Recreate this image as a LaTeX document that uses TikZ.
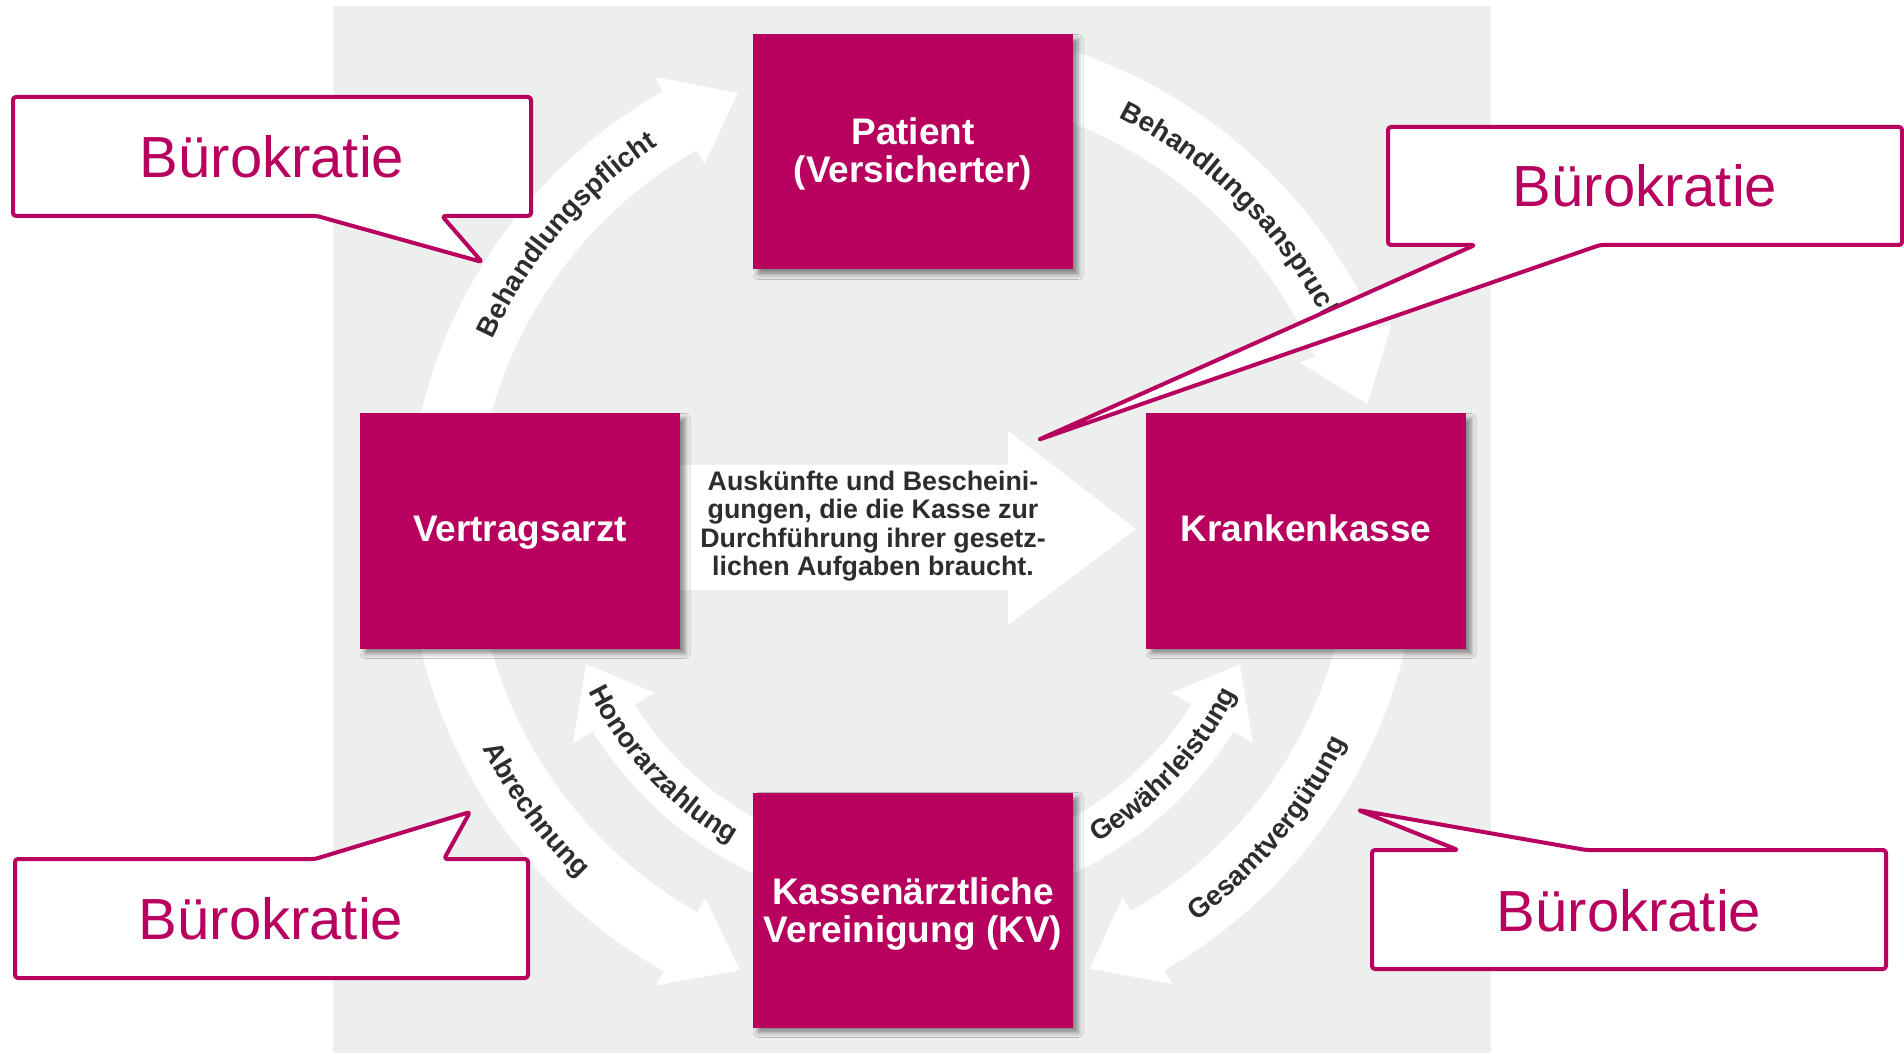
\documentclass[tikz,border=0pt]{standalone}
\usepackage{fontspec}
\setmainfont{Liberation Sans}
\newfontfamily\lblfont{Liberation Sans Bold}
\usetikzlibrary{calc,decorations.text,shadows.blur}
\definecolor{brand}{RGB}{184,0,95}
\definecolor{bggray}{RGB}{237,238,238}
\definecolor{lblgray}{RGB}{45,45,45}
\newcommand{\arcfont}{\lblfont\fontsize{13.8pt}{13.8pt}\selectfont}
% #1 radius, #2 half band width, #3 half head width, #4 start angle, #5 head base angle, #6 tip angle
\newcommand{\ringarrow}[6]{%
  \fill[arrowfill] plot[domain=#4:#5, samples=40] ({913+(#1-#2)*cos(\x)},{525+(#1-#2)*sin(\x)})
    -- ({913+(#1-#3)*cos(#5)},{525+(#1-#3)*sin(#5)})
    -- ({913+#1*cos(#6)},{525+#1*sin(#6)})
    -- ({913+(#1+#3)*cos(#5)},{525+(#1+#3)*sin(#5)})
    -- plot[domain=#5:#4, samples=40] ({913+(#1+#2)*cos(\x)},{525+(#1+#2)*sin(\x)})
    -- cycle;}
\begin{document}
\begin{tikzpicture}[x=0.5pt,y=0.5pt,
  box/.style={fill=brand, minimum width=160pt, minimum height=117.5pt, inner sep=0pt,
    blur shadow={shadow xshift=2.5pt, shadow yshift=-2.5pt, shadow blur radius=2.5pt, shadow opacity=45}},
  boxlabel/.style={text=white, font=\bfseries\fontsize{18.5pt}{19pt}\selectfont, align=center, inner sep=0pt},
  callout/.style={draw=brand, line width=2pt, fill=white, rounded corners=1.5pt, line join=round},
  calltext/.style={text=brand, font=\fontsize{29pt}{34pt}\selectfont, inner sep=0pt},
  midtext/.style={text=lblgray, font=\lblfont\fontsize{13.4pt}{14.2pt}\selectfont, align=center, inner sep=0pt},
  arrowfill/.style={fill=white}
]
\useasboundingbox (0,0) rectangle (1904,1056);
\fill[white] (0,0) rectangle (1904,1056);
\fill[bggray] (333,3) rectangle (1491,1050);
\coordinate (C) at (913,525);

% outer ring arrows
\ringarrow{472}{34}{50}{172}{119.6}{111.8}
\ringarrow{472}{34}{50}{75}{23.5}{15.6}
\ringarrow{472}{34}{50}{188}{240.5}{248.5}
\ringarrow{472}{34}{50}{352}{299.8}{292}
% inner arrows
\ringarrow{353}{25}{48}{250}{212}{202.2}
\ringarrow{353}{25}{48}{290}{328}{337.8}

% arc labels
\path[decorate, decoration={text along path, text align=center, text color=lblgray,
  text={|\arcfont|Behandlungspflicht}}]
  ($(C)+(175:231pt)$) arc[start angle=175, end angle=104, radius=231pt];
\path[decorate, decoration={text along path, text align=center, text color=lblgray,
  text={|\arcfont|Behandlungsanspruch}}]
  ($(C)+(80:231pt)$) arc[start angle=80, end angle=10, radius=231pt];
\path[decorate, decoration={text along path, text align=center, text color=lblgray,
  text={|\arcfont|Abrechnung}}]
  ($(C)+(183:241pt)$) arc[start angle=183, end angle=250, radius=241pt];
\path[decorate, decoration={text along path, text align=center, text color=lblgray,
  text={|\arcfont|Gesamtvergütung}}]
  ($(C)+(285:241pt)$) arc[start angle=285, end angle=355, radius=241pt];
\path[decorate, decoration={text along path, text align=center, text color=lblgray,
  text={|\arcfont|Honorarzahlung}}]
  ($(C)+(195:181pt)$) arc[start angle=195, end angle=251, radius=181pt];
\path[decorate, decoration={text along path, text align=center, text color=lblgray,
  text={|\arcfont|Gewährleistung}}]
  ($(C)+(289:181pt)$) arc[start angle=289, end angle=345, radius=181pt];

% middle arrow
\fill[arrowfill] (660,466) -- (1008,466) -- (1008,431) -- (1136,527) -- (1008,625)
  -- (1008,591) -- (660,591) -- cycle;
\node[midtext] (info) at (873,530) {Auskünfte und Bescheini-\\gungen, die die Kasse zur\\Durchführung ihrer gesetz-\\lichen Aufgaben braucht.};

% boxes
\node[box] (patient) at (913,904) {};
\node[box] (arzt) at (520,525) {};
\node[box] (kasse) at (1306,525) {};
\node[box] (kv) at (913,146) {};
\node[boxlabel] (patientlbl) at ([yshift=-1.2pt]patient.center) {Patient\\(Versicherter)};
\node[boxlabel, text height=13.3pt, text depth=0pt] (arztlbl) at ([yshift=1.2pt]arzt.center) {Vertragsarzt};
\node[boxlabel, text height=13.3pt, text depth=0pt] (kasselbl) at ([yshift=1.2pt]kasse.center) {Krankenkasse};
\node[boxlabel] (kvlbl) at ([yshift=-2pt]kv.center) {Kassenärztliche\\Vereinigung (KV)};

% callouts
\draw[callout] (13,959) -- (531,959) -- (531,840) -- (442,840) -- (482,794) -- (317,840) -- (13,840) -- cycle;
\node[calltext] (b1) at (272,899) {Bürokratie};
\draw[callout] (1388,929) -- (1902,929) -- (1902,811) -- (1600,811) -- (1038,616) -- (1475,811) -- (1388,811) -- cycle;
\node[calltext] (b2) at (1645,870) {Bürokratie};
\draw[callout] (15,197) -- (315,197) -- (470,244) -- (444,197) -- (528,197) -- (528,78) -- (15,78) -- cycle;
\node[calltext] (b3) at (271,137) {Bürokratie};
\draw[callout] (1372,206) -- (1458,206) -- (1358,246) -- (1586,206) -- (1886,206) -- (1886,87) -- (1372,87) -- cycle;
\node[calltext] (b4) at (1629,145) {Bürokratie};
\end{tikzpicture}
\end{document}
